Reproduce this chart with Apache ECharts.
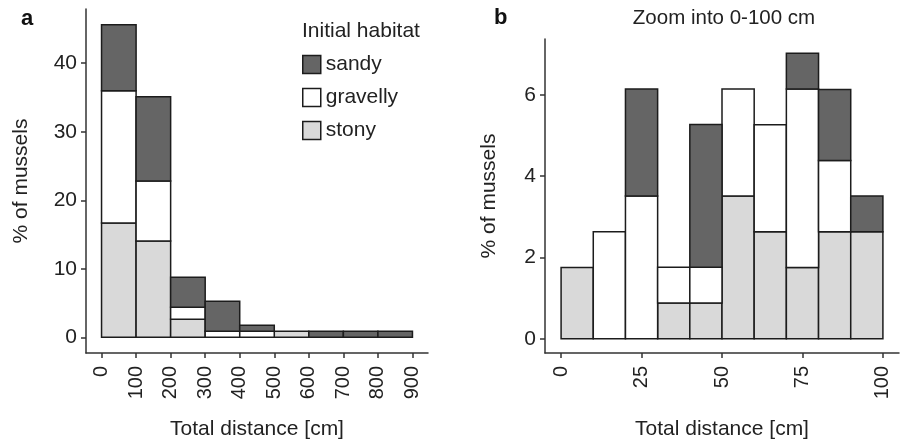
<!DOCTYPE html>
<html>
<head>
<meta charset="utf-8">
<script src="https://cdn.jsdelivr.net/npm/echarts@6/dist/echarts.min.js"></script>
<style>
html,body{margin:0;padding:0;background:#fff;}
#chart{width:901px;height:439px;}
</style>
</head>
<body>
<div id="chart"></div>
<script>
// ---- data (percent of mussels per bin) ----
const edgesA = [0, 100, 200, 300, 400, 500, 600, 700, 800, 900];
const stonyA = [16.67, 14.04, 2.63, 0, 0, 0.88, 0, 0, 0];
const gravellyA = [19.30, 8.77, 1.75, 0.88, 0.88, 0, 0, 0, 0];
const sandyA = [9.65, 12.28, 4.39, 4.39, 0.88, 0, 0.88, 0.88, 0.88];

const edgesB = [0, 10, 20, 30, 40, 50, 60, 70, 80, 90, 100];
const stonyB = [1.75, 0, 0, 0.88, 0.88, 3.51, 2.63, 1.75, 2.63, 2.63];
const gravellyB = [0, 2.63, 3.51, 0.88, 0.88, 2.63, 2.63, 4.39, 1.75, 0];
const sandyB = [0, 0, 2.63, 0, 3.51, 0, 0, 0.88, 1.75, 0.88];

const xTicksA = [0, 100, 200, 300, 400, 500, 600, 700, 800, 900];
const yTicksA = [0, 10, 20, 30, 40];
const xTicksB = [0, 25, 50, 75, 100];
const yTicksB = [0, 2, 4, 6];

const habitats = ['stony', 'gravelly', 'sandy'];
const colors = { stony: '#d9d9d9', gravelly: '#ffffff', sandy: '#656565' };

// ---- helpers ----
function stack(edges, layers) {
  const base = edges.slice(0, -1).map(() => 0);
  return layers.map(vals => {
    const out = [];
    vals.forEach((v, i) => {
      if (v > 0) out.push([edges[i], edges[i + 1], base[i], base[i] + v]);
      base[i] += v;
    });
    return out;
  });
}
function maxTotal(layers) {
  return Math.max(...layers[0].map((_, i) => layers.reduce((s, l) => s + l[i], 0)));
}
const stA = stack(edgesA, [stonyA, gravellyA, sandyA]);
const stB = stack(edgesB, [stonyB, gravellyB, sandyB]);
const mA = maxTotal([stonyA, gravellyA, sandyA]);
const mB = maxTotal([stonyB, gravellyB, sandyB]);
const spanA = edgesA[edgesA.length - 1] - edgesA[0];
const spanB = edgesB[edgesB.length - 1] - edgesB[0];

const FONT = 'Liberation Sans, Arial, sans-serif';
const TXT = '#222';
const AX = '#333';
const STROKE = '#1c1c1c';

function renderItem(params, api) {
  const p0 = api.coord([api.value(0), api.value(3)]);
  const p1 = api.coord([api.value(1), api.value(2)]);
  return {
    type: 'rect',
    shape: { x: p0[0], y: p0[1], width: p1[0] - p0[0], height: p1[1] - p0[1] },
    style: { fill: api.visual('color'), stroke: STROKE, lineWidth: 1.5 }
  };
}

function xAxis(grid, min, max, ticks) {
  return {
    gridIndex: grid, type: 'value', min: min, max: max,
    axisLine: { onZero: false, lineStyle: { color: AX, width: 1.5 } },
    axisTick: { customValues: ticks, length: 5, lineStyle: { color: AX, width: 1.5 } },
    axisLabel: { customValues: ticks, rotate: 90, margin: 13, fontSize: 20, color: TXT, fontFamily: FONT },
    splitLine: { show: false },
    name: 'Total distance [cm]', nameLocation: 'middle', nameGap: 66,
    nameTextStyle: { fontSize: 21, color: TXT, fontFamily: FONT }
  };
}
function yAxis(grid, min, max, ticks, gap) {
  return {
    gridIndex: grid, type: 'value', min: min, max: max,
    axisLine: { show: true, onZero: false, lineStyle: { color: AX, width: 1.5 } },
    axisTick: { show: true, customValues: ticks, length: 5, lineStyle: { color: AX, width: 1.5 } },
    axisLabel: { customValues: ticks, margin: 9, fontSize: 21, color: TXT, fontFamily: FONT },
    splitLine: { show: false },
    name: '% of mussels', nameLocation: 'middle', nameGap: gap,
    nameTextStyle: { fontSize: 21, color: TXT, fontFamily: FONT }
  };
}

const series = [];
habitats.forEach((h, k) => {
  series.push({ type: 'custom', name: h, xAxisIndex: 0, yAxisIndex: 0, renderItem,
    itemStyle: { color: colors[h] }, encode: { x: [0, 1], y: [2, 3] }, data: stA[k], z: 2 });
  series.push({ type: 'custom', name: h, xAxisIndex: 1, yAxisIndex: 1, renderItem,
    itemStyle: { color: colors[h] }, encode: { x: [0, 1], y: [2, 3] }, data: stB[k], z: 2 });
});

const chart = echarts.init(document.getElementById('chart'), null, { renderer: 'canvas' });
chart.setOption({
  animation: false,
  backgroundColor: '#fff',
  textStyle: { fontFamily: FONT },
  grid: [
    { left: 86, right: 473, top: 9, bottom: 86, containLabel: false, outerBoundsMode: 'none' },
    { left: 545, right: 2, top: 39, bottom: 86, containLabel: false, outerBoundsMode: 'none' }
  ],
  xAxis: [
    xAxis(0, edgesA[0] - spanA * 0.05, edgesA[edgesA.length - 1] + spanA * 0.05, xTicksA),
    xAxis(1, edgesB[0] - spanB * 0.05, edgesB[edgesB.length - 1] + spanB * 0.05, xTicksB)
  ],
  yAxis: [
    yAxis(0, -mA * 0.05, mA * 1.05, yTicksA, 54),
    yAxis(1, -mB * 0.05, mB * 1.05, yTicksB, 45)
  ],
  legend: {
    orient: 'vertical', left: 302, top: 54, padding: 0, itemWidth: 18, itemHeight: 18, itemGap: 12,
    icon: 'rect',
    textStyle: { fontSize: 21, color: TXT, fontFamily: FONT },
    data: ['sandy', 'gravelly', 'stony'].map(n => ({
      name: n, itemStyle: { color: colors[n], borderColor: STROKE, borderWidth: 1.5 }
    }))
  },
  graphic: [
    { type: 'text', left: 302, top: 21, style: { text: 'Initial habitat', fontSize: 21, fill: TXT, fontFamily: FONT } },
    { type: 'text', left: 21, top: 8, style: { text: 'a', fontSize: 22, fontWeight: 'bold', fill: '#111', fontFamily: FONT } },
    { type: 'text', left: 494, top: 7, style: { text: 'b', fontSize: 22, fontWeight: 'bold', fill: '#111', fontFamily: FONT } },
    { type: 'text', x: 724, y: 18, style: { text: 'Zoom into 0-100 cm', fontSize: 20.5, fill: TXT, fontFamily: FONT, align: 'center', verticalAlign: 'middle' } }
  ],
  series: series
});
</script>
</body>
</html>
